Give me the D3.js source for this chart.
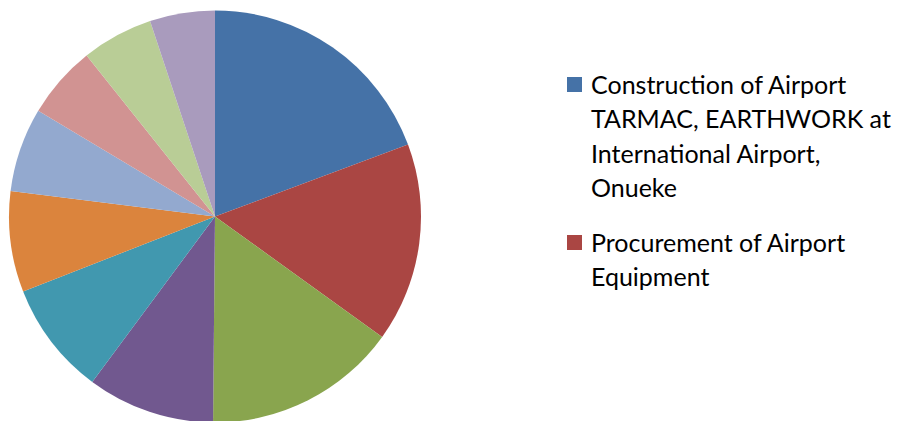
<!DOCTYPE html>
<html><head><meta charset="utf-8">
<script src="https://cdn.jsdelivr.net/npm/d3@7"></script>
<style>html,body{margin:0;padding:0;background:#fff;}svg{display:block;}</style>
</head><body>
<svg id="chart" width="902" height="421"></svg>
<script>
const categories = [
  "Construction of Airport TARMAC, EARTHWORK at International Airport, Onueke",
  "Procurement of Airport Equipment",
  "Item 3", "Item 4", "Item 5", "Item 6", "Item 7", "Item 8", "Item 9", "Item 10"
];
const values = [19.3, 15.6, 15.2, 10.0, 8.9, 7.9, 6.6, 5.7, 5.6, 5.1];
const colors = ["#4572A7", "#AA4643", "#89A54E", "#71588F", "#4198AF",
                "#DB843D", "#93A9CF", "#D19392", "#B9CD96", "#A99BBD"];
const legendLines = [
  ["Construction of Airport", "TARMAC, EARTHWORK at", "International Airport,", "Onueke"],
  ["Procurement of Airport", "Equipment"]
];

const svg = d3.select("#chart");
const cx = 215, cy = 216.5, r = 206;
const color = d3.scaleOrdinal().domain(categories).range(colors);
const pie = d3.pie().sort(null).value(d => d.v);
const arc = d3.arc().innerRadius(0).outerRadius(r);
const data = categories.map((c, i) => ({c, v: values[i]}));
svg.append("g").attr("transform", `translate(${cx},${cy})`)
  .selectAll("path").data(pie(data)).join("path")
  .attr("d", arc).attr("fill", d => color(d.data.c));

const leg = svg.append("g").attr("font-family", "Lato, 'Open Sans', sans-serif")
  .attr("font-size", 25).attr("fill", "#000");
const entryTop = [77, 235];
const lineH = 34.5;
legendLines.forEach((lines, i) => {
  const g = leg.append("g");
  g.append("rect").attr("x", 567).attr("y", entryTop[i]).attr("width", 15).attr("height", 15)
    .attr("fill", color(categories[i]));
  lines.forEach((t, j) => {
    g.append("text").attr("x", 591).attr("y", entryTop[i] + 16.5 + j * lineH).text(t);
  });
});
</script>
</body></html>
